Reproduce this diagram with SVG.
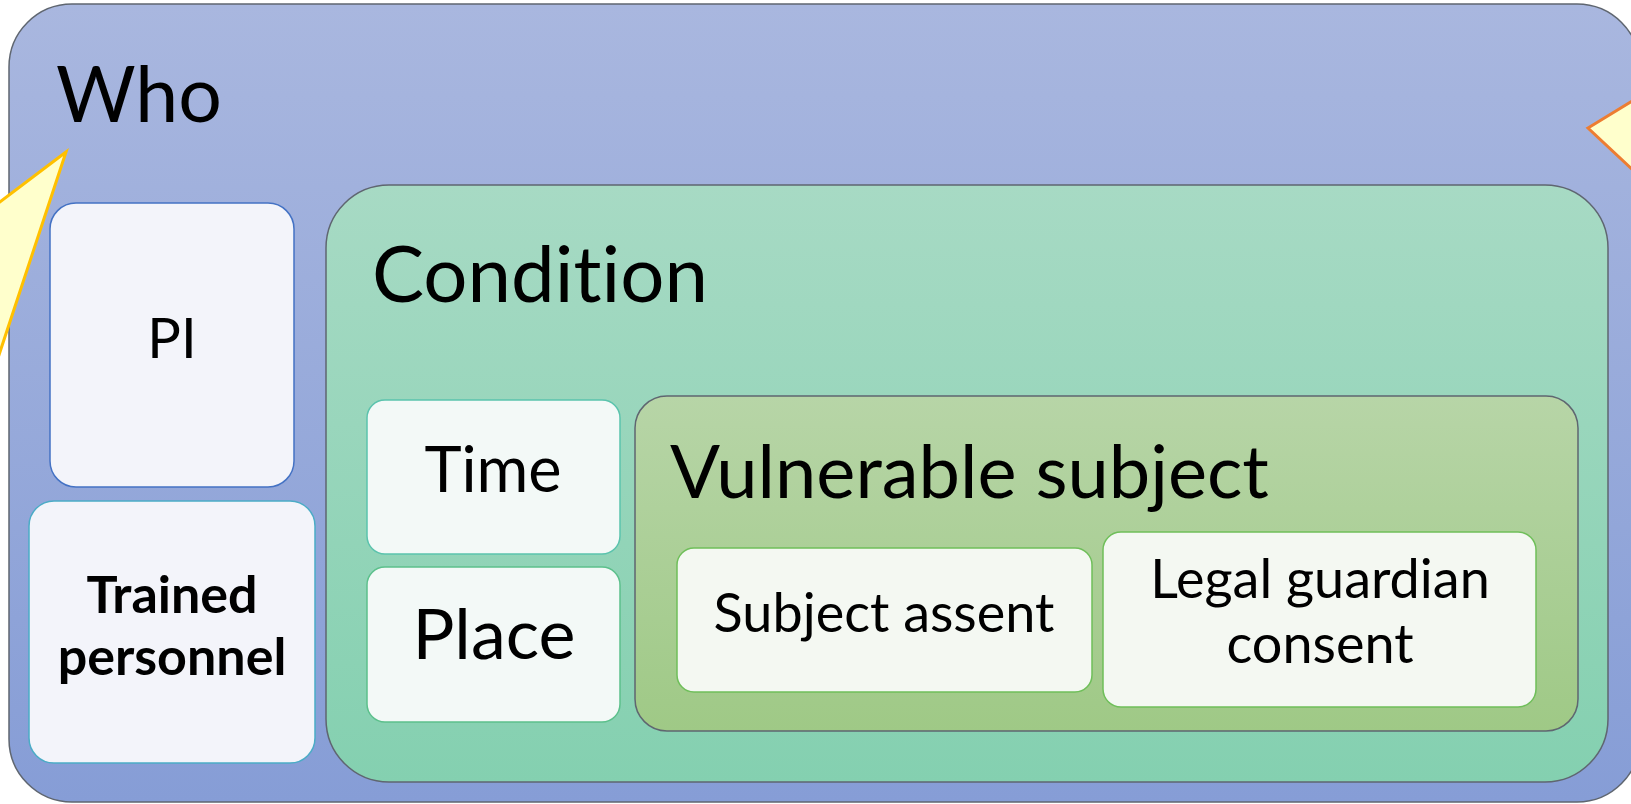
<svg xmlns="http://www.w3.org/2000/svg" width="1631" height="804" viewBox="0 0 1631 804">
  <style>
    .t { font-family: Lato, "Noto Sans", "Liberation Sans", sans-serif; fill: #000; font-variant-ligatures: none; }
    .c { text-anchor: middle; }
    .frame { stroke: #5f6670; stroke-width: 1.5; }
    .box { stroke-width: 1.5; }
  </style>
  <defs>
    <linearGradient id="gWho" x1="0" y1="0" x2="0" y2="1">
      <stop offset="0" stop-color="#a9b7df"/>
      <stop offset="1" stop-color="#869dd6"/>
    </linearGradient>
    <linearGradient id="gCond" x1="0" y1="0" x2="0" y2="1">
      <stop offset="0" stop-color="#a7dac4"/>
      <stop offset="1" stop-color="#84d0b0"/>
    </linearGradient>
    <linearGradient id="gVul" x1="0" y1="0" x2="0" y2="1">
      <stop offset="0" stop-color="#b7d5a7"/>
      <stop offset="1" stop-color="#9fc986"/>
    </linearGradient>
  </defs>

  <g id="who">
    <rect class="frame" x="9" y="4" width="1631" height="798" rx="63" fill="url(#gWho)"/>
    <text class="t" x="56" y="122" font-size="77">Who</text>
  </g>

  <g id="pi">
    <rect class="box" x="50" y="203" width="244" height="284" rx="26" fill="#f3f4fa" stroke="#4472c4"/>
    <text class="t c" x="172" y="358" font-size="56">PI</text>
  </g>

  <g id="trained-personnel">
    <rect class="box" x="29" y="501" width="286" height="262" rx="25" fill="#f3f4fa" stroke="#4bacc6"/>
    <text class="t c" x="172" y="613" font-size="52" font-weight="bold">Trained</text>
    <text class="t c" x="172" y="675" font-size="52" font-weight="bold">personnel</text>
  </g>

  <g id="condition">
    <rect class="frame" x="326" y="185" width="1282" height="597" rx="63" fill="url(#gCond)"/>
    <text class="t" x="372" y="302" font-size="78">Condition</text>
  </g>

  <g id="time">
    <rect class="box" x="367" y="400" width="253" height="154" rx="18" fill="#f3f9f7" stroke="#5bc3ad"/>
    <text class="t c" x="493" y="492" font-size="63">Time</text>
  </g>

  <g id="place">
    <rect class="box" x="367" y="567" width="253" height="155" rx="18" fill="#f3f9f7" stroke="#5cc08c"/>
    <text class="t c" x="494" y="659" font-size="70">Place</text>
  </g>

  <g id="vulnerable-subject">
    <rect class="frame" x="635" y="396" width="943" height="335" rx="32" fill="url(#gVul)"/>
    <text class="t" x="670" y="498" font-size="74">Vulnerable subject</text>
  </g>

  <g id="subject-assent">
    <rect class="box" x="677" y="548" width="415" height="144" rx="17" fill="#f4f8f2" stroke="#6fbf5a"/>
    <text class="t c" x="884" y="632" font-size="54">Subject assent</text>
  </g>

  <g id="legal-guardian-consent">
    <rect class="box" x="1103" y="532" width="433" height="175" rx="18" fill="#f4f8f2" stroke="#6fbf5a"/>
    <text class="t c" x="1320" y="598" font-size="54">Legal guardian</text>
    <text class="t c" x="1320" y="663" font-size="54">consent</text>
  </g>

  <g id="connectors">
    <polygon points="66,152 -40,232 -40,473" fill="#ffffcc" stroke="#ffc000" stroke-width="3" stroke-linejoin="miter"/>
    <polygon points="1588,128 1680,72 1680,214" fill="#ffffcc" stroke="#ed7d31" stroke-width="3" stroke-linejoin="miter"/>
  </g>
</svg>
